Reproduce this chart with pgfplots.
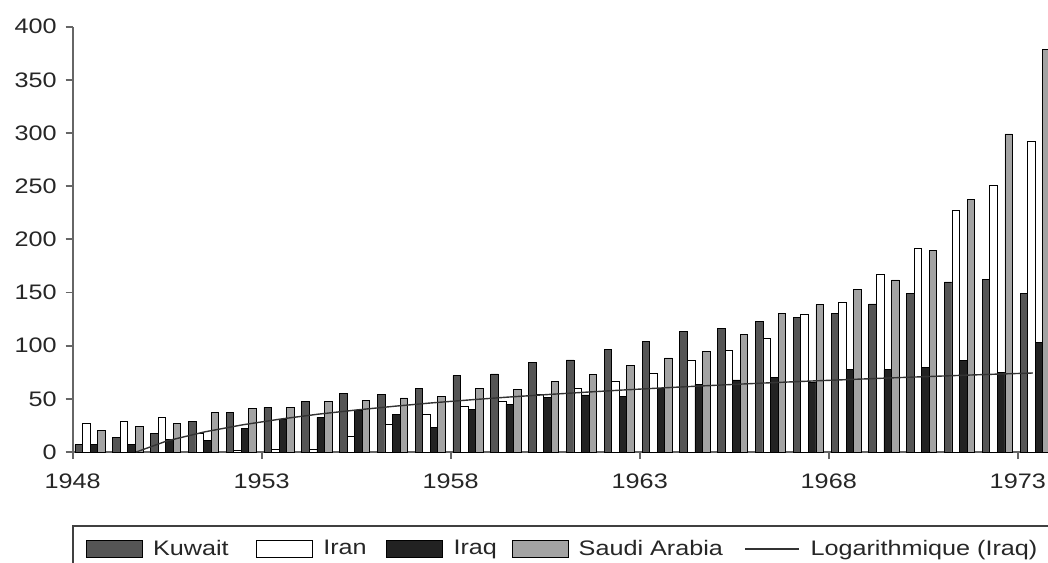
\documentclass[border=0pt]{standalone}
\usepackage{graphicx}
\usepackage{fontspec}
\setmainfont{Liberation Sans}
\usepackage{pgfplots}
\usepackage{pgfplotstable}
\pgfplotsset{compat=1.18}

\definecolor{kuwait}{HTML}{555555}
\definecolor{iraq}{HTML}{222222}
\definecolor{saudi}{HTML}{A3A3A3}
\definecolor{axisgray}{HTML}{666666}

% year, Kuwait, Iran, Iraq, Saudi Arabia
\pgfplotstableread{
year kuwait iran iraq saudi
1948 7 27 7 20
1949 13.5 29 7 24
1950 17.7 33 11.5 26.5
1951 28.5 17.5 11 37
1952 37.3 1.3 22 40.8
1953 42 2.5 30.5 42
1954 47.8 2.6 32.6 47.8
1955 55 14.7 38.9 48.7
1956 54.5 25.7 35.7 50.8
1957 59.6 35.1 23.5 52.4
1958 71.8 42.6 40.4 59.9
1959 73.4 47.6 45.1 59.2
1960 84 54 51 66
1961 86.6 59.7 53.7 72.9
1962 96.7 66.5 52 81.8
1963 103.6 74.3 59.4 88.5
1964 113.6 86.5 63.8 94.8
1965 116.2 95.1 67.8 110.5
1966 123 106.6 70 130.2
1967 126.2 129.8 65.5 138.6
1968 130.4 140.8 77.4 153
1969 139.2 166.8 77.4 161.8
1970 149.5 191.8 79.6 189.3
1971 159.9 227.6 86.2 237.9
1972 162 251.1 74.9 299.1
1973 149.5 292.2 103.1 379
}\oil

% logarithmic trend line (Iraq)
\pgfplotstableread{
x y
1949.68 0
1950.5 10.5
1951.5 19.0
1952.5 25.6
1953.5 31.0
1954.5 35.6
1955.5 39.5
1956.5 43.0
1957.5 46.2
1958.5 49.0
1959.5 51.6
1960.5 53.9
1961.5 56.1
1962.5 58.2
1963.5 60.1
1964.5 61.9
1965.5 63.6
1966.5 65.2
1967.5 66.7
1968.5 68.1
1969.5 69.5
1970.5 70.8
1971.5 72.1
1972.5 73.3
1973.4 74.3
}\trend

\pgfplotsset{
  swatch/.style={legend image code/.code={
    \draw[##1] (0pt,-4.3pt) rectangle (28pt,4.3pt);}},
  linesw/.style={legend image code/.code={
    \draw[##1] (0pt,0pt) -- (27pt,0pt);}},
}
\newcommand{\legtxt}[2]{\makebox[#1][l]{\scalebox{1.2}[1]{#2}}}

\begin{document}
\begin{tikzpicture}
\useasboundingbox (-36.35pt,-55pt) rectangle (487.65pt,226pt);
\clip (-36.35pt,-55pt) rectangle (487.65pt,226pt);
\begin{axis}[
  at={(0,0)}, anchor=south west,
  scale only axis,
  width=487.65pt, height=212.65pt,
  xmin=1948, xmax=1973.8,
  ymin=0, ymax=400,
  axis lines*=left,
  axis line style={axisgray, line width=0.9pt},
  every tick/.style={axisgray, line width=0.9pt},
  tick align=outside,
  major tick length=3.5pt,
  xtick={1948,1953,...,1973},
  ytick={0,50,...,400},
  /pgf/number format/assume math mode=true,
  xticklabel={\scalebox{1.2}[1]{\pgfmathprintnumber[1000 sep=]{\tick}}},
  yticklabel={\scalebox{1.2}[1]{\pgfmathprintnumber{\tick}}},
  tick label style={font=\fontsize{10.5}{12}\selectfont, text=black!85},
  xticklabel style={yshift=-4pt},
  yticklabel style={xshift=-1pt},
  clip=true,
  legend style={
    at={(axis description cs:0,0)}, anchor=north west,
    yshift=-36.5pt, xshift=-0.3pt,
    draw=black!75, line width=0.8pt,
    font=\fontsize{10.5}{12}\selectfont, text=black!85,
    legend columns=5,
    inner xsep=6.5pt, inner ysep=7pt,
    nodes={inner sep=0pt, text depth=0.15em},
    /tikz/every odd column/.style={column sep=5.2pt},
    /tikz/every even column/.style={column sep=0pt},
  },
  legend cell align=left,
]
\addplot[ybar, bar width=0.2, bar shift=0pt, fill=kuwait, draw=black, line width=0.4pt,
  swatch] table[x expr=\thisrow{year}+0.16, y=kuwait] {\oil};
\addlegendentry{\legtxt{51.5pt}{Kuwait}}
\addplot[ybar, bar width=0.2, bar shift=0pt, fill=white, draw=black, line width=0.4pt,
  swatch] table[x expr=\thisrow{year}+0.36, y=iran] {\oil};
\addlegendentry{\legtxt{31.5pt}{Iran}}
\addplot[ybar, bar width=0.2, bar shift=0pt, fill=iraq, draw=black, line width=0.4pt,
  swatch] table[x expr=\thisrow{year}+0.56, y=iraq] {\oil};
\addlegendentry{\legtxt{29pt}{Iraq}}
\addplot[ybar, bar width=0.2, bar shift=0pt, fill=saudi, draw=black, line width=0.4pt,
  swatch] table[x expr=\thisrow{year}+0.76, y=saudi] {\oil};
\addlegendentry{\legtxt{83pt}{Saudi Arabia}}
\addplot[no marks, color=black!80, line width=0.7pt, linesw] table[x=x, y=y] {\trend};
\addlegendentry{\legtxt{124pt}{Logarithmique (Iraq)}}
\end{axis}
\end{tikzpicture}
\end{document}
